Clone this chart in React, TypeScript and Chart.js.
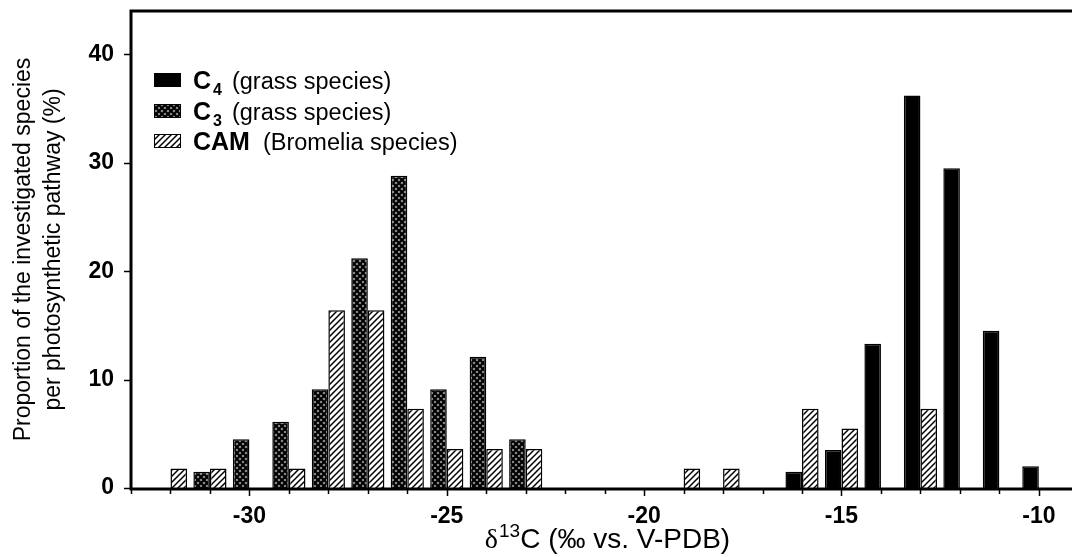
import React, { useEffect, useRef } from "react";
import { Chart, registerables } from "chart.js";

Chart.register(...registerables);

// ---- data ----
const bins = [-32, -31, -30, -29, -28, -27, -26, -25, -24, -23, -22, -21, -20, -19, -18, -17, -16, -15, -14, -13, -12, -11, -10];
const c4Values = [null, null, null, null, null, null, null, null, null, null, null, null, null, null, null, null, 1.5, 3.5, 13.3, 36.2, 29.5, 14.5, 2.0];
const c3Values = [null, 1.5, 4.5, 6.1, 9.1, 21.2, 28.8, 9.1, 12.1, 4.5, null, null, null, null, null, null, null, null, null, null, null, null, null];
const camValues = [1.8, 1.8, null, 1.8, 16.4, 16.4, 7.3, 3.6, 3.6, 3.6, null, null, null, 1.8, 1.8, null, 7.3, 5.5, null, 7.3, null, null, null];

const xTickValues = [-33, -32, -31, -30, -29, -28, -27, -26, -25, -24, -23, -22, -21, -20, -19, -18, -17, -16, -15, -14, -13, -12, -11, -10];
const xMajorTicks = [-30, -25, -20, -15, -10];
const yTicks = [0, 10, 20, 30, 40];

const legendMain = ["C", "C", "CAM"];
const legendSub = ["4", "3", ""];
const legendRest = ["(grass species)", "(grass species)", "(Bromelia species)"];

const yTitle = ["Proportion of the investigated species", "per photosynthetic pathway (%)"];
const xTitleSymbol = "\u03b4";
const xTitleSup = "13";
const xTitleRest = "C (\u2030 vs. V-PDB)";

const SANS = "'Liberation Sans', Arial, Helvetica, sans-serif";
const SERIF = "'Liberation Serif', 'Times New Roman', serif";

function makeCrossPattern(): CanvasPattern | string {
  const c = document.createElement("canvas");
  c.width = 6;
  c.height = 6;
  const g = c.getContext("2d");
  if (!g) return "#444";
  g.fillStyle = "#9a9a9a";
  g.fillRect(0, 0, 6, 6);
  g.strokeStyle = "#000";
  g.lineWidth = 2.2;
  g.beginPath();
  g.moveTo(-1, -1); g.lineTo(7, 7);
  g.moveTo(-1, 7); g.lineTo(7, -1);
  g.stroke();
  return g.createPattern(c, "repeat") || "#444";
}

function makeStripePattern(): CanvasPattern | string {
  const c = document.createElement("canvas");
  c.width = 6;
  c.height = 6;
  const g = c.getContext("2d");
  if (!g) return "#fff";
  g.fillStyle = "#fff";
  g.fillRect(0, 0, 6, 6);
  g.strokeStyle = "#000";
  g.lineWidth = 1.5;
  g.beginPath();
  g.moveTo(-1, 7); g.lineTo(7, -1);
  g.moveTo(-1, 1); g.lineTo(1, -1);
  g.moveTo(5, 7); g.lineTo(7, 5);
  g.stroke();
  return g.createPattern(c, "repeat") || "#fff";
}

export default function App() {
  const ref = useRef<HTMLCanvasElement | null>(null);

  useEffect(() => {
    const canvas = ref.current;
    if (!canvas) return;
    const cross = makeCrossPattern();
    const stripe = makeStripePattern();
    const legendFills = ["#000", cross, stripe];

    const framePlugin = {
      id: "frameAndExtras",
      afterDraw(chart: any) {
        const ctx = chart.ctx as CanvasRenderingContext2D;
        const area = chart.chartArea;
        const xs = chart.scales.x;
        const ys = chart.scales.y;
        ctx.save();
        // frame lines
        ctx.strokeStyle = "#000";
        ctx.lineWidth = 3;
        ctx.beginPath();
        ctx.moveTo(area.left, area.bottom + 1.5);
        ctx.lineTo(area.left, area.top);
        ctx.lineTo(area.right + 2, area.top);
        ctx.moveTo(area.left - 1.5, area.bottom + 1);
        ctx.lineTo(area.right + 2, area.bottom + 1);
        ctx.stroke();
        // x ticks
        ctx.lineWidth = 1.5;
        ctx.beginPath();
        xTickValues.forEach((v) => {
          const px = Math.round(xs.getPixelForValue(v)) + 0.5;
          const len = xMajorTicks.includes(v) ? 8 : 6;
          ctx.moveTo(px, area.bottom + 2);
          ctx.lineTo(px, area.bottom + len);
        });
        // y ticks
        yTicks.forEach((v) => {
          const py = Math.round(ys.getPixelForValue(v)) + 0.5;
          ctx.moveTo(area.left - 7, py);
          ctx.lineTo(area.left - 1, py);
        });
        ctx.stroke();

        // legend
        const boxX = 154;
        const rowBase = [89, 120, 150];
        legendMain.forEach((m, i) => {
          const base = rowBase[i];
          ctx.fillStyle = legendFills[i] as any;
          ctx.fillRect(boxX, base - 16, 27, 14);
          ctx.strokeStyle = "#000";
          ctx.lineWidth = 1;
          ctx.strokeRect(boxX + 0.5, base - 15.5, 26, 13);
          ctx.fillStyle = "#000";
          ctx.textBaseline = "alphabetic";
          ctx.textAlign = "left";
          let x = 193;
          ctx.font = `bold 25px ${SANS}`;
          ctx.fillText(m, x, base);
          x += ctx.measureText(m).width;
          if (legendSub[i]) {
            ctx.font = `bold 16px ${SANS}`;
            ctx.fillText(legendSub[i], x + 2, base + 6);
            x += ctx.measureText(legendSub[i]).width + 2;
            x += 10;
          } else {
            x += 13;
          }
          ctx.font = `23.5px ${SANS}`;
          ctx.fillText(legendRest[i], x, base);
        });

        // x axis title
        ctx.font = `28px ${SERIF}`;
        const w1 = ctx.measureText(xTitleSymbol).width;
        ctx.font = `19px ${SANS}`;
        const w2 = ctx.measureText(xTitleSup).width;
        ctx.font = `28px ${SANS}`;
        const w3 = ctx.measureText(xTitleRest).width;
        const total = w1 + w2 + w3 + 1;
        let tx = (area.left + area.right) / 2 + 6 - total / 2;
        const tb = 548;
        ctx.fillStyle = "#000";
        ctx.font = `28px ${SERIF}`;
        ctx.fillText(xTitleSymbol, tx, tb);
        tx += w1;
        ctx.font = `19px ${SANS}`;
        ctx.fillText(xTitleSup, tx + 1, tb - 11);
        tx += w2 + 1;
        ctx.font = `28px ${SANS}`;
        ctx.fillText(xTitleRest, tx, tb);
        ctx.restore();
      },
    };

    const chart = new Chart(canvas, {
      type: "bar",
      data: {
        labels: bins,
        datasets: [
          { label: "C4 (grass species)", data: c4Values, backgroundColor: "#000", borderColor: "#000", borderWidth: 1.5, stack: "a" },
          { label: "C3 (grass species)", data: c3Values, backgroundColor: cross as any, borderColor: "#000", borderWidth: 1.5, stack: "a" },
          { label: "CAM (Bromelia species)", data: camValues, backgroundColor: stripe as any, borderColor: "#000", borderWidth: 1.5, stack: "b" },
        ],
      },
      options: {
        animation: false,
        responsive: false,
        layout: { padding: { left: 0, right: 0, top: 11, bottom: 0 } },
        datasets: { bar: { categoryPercentage: 0.84, barPercentage: 1 } },
        plugins: { legend: { display: false }, tooltip: { enabled: false } },
        scales: {
          x: {
            type: "linear",
            min: -33,
            max: -9.16,
            offset: false,
            grid: { display: false, drawTicks: false, tickLength: 0 },
            border: { display: false },
            afterBuildTicks: (s: any) => {
              s.ticks = xTickValues.map((v) => ({ value: v }));
            },
            afterFit: (s: any) => {
              s.height = 69;
              s.paddingLeft = 0;
              s.paddingRight = 0;
            },
            ticks: {
              autoSkip: false,
              maxRotation: 0,
              padding: 15,
              color: "#000",
              font: { family: SANS, size: 23, weight: "bold" },
              callback: (v: any) => (xMajorTicks.includes(Number(v)) ? String(v) : ""),
            },
          },
          y: {
            min: 0,
            max: 44,
            stacked: true,
            grid: { display: false, drawTicks: false, tickLength: 0 },
            border: { display: false },
            afterBuildTicks: (s: any) => {
              s.ticks = yTicks.map((v) => ({ value: v }));
            },
            afterFit: (s: any) => {
              s.width = 131;
              s.paddingTop = 0;
              s.paddingBottom = 0;
            },
            ticks: {
              padding: 17,
              color: "#000",
              font: { family: SANS, size: 23, weight: "bold" },
            },
            title: {
              display: true,
              text: yTitle,
              color: "#000",
              font: { family: SANS, size: 23, lineHeight: 1.32 },
              padding: { top: 8, bottom: 0 },
            },
          },
        },
      },
      plugins: [framePlugin],
    } as any);

    return () => chart.destroy();
  }, []);

  return (
    <div style={{ position: "fixed", left: 0, top: 0, width: 1072, height: 557, background: "#fff" }}>
      <canvas ref={ref} width={1072} height={557} style={{ display: "block" }} />
    </div>
  );
}
